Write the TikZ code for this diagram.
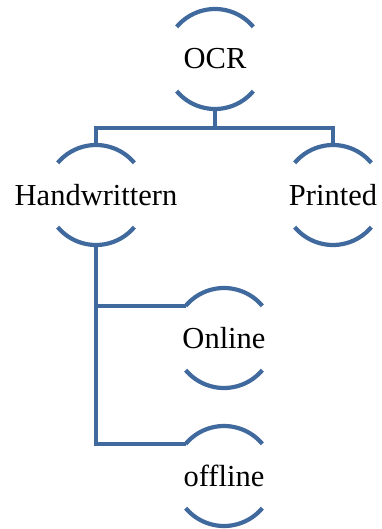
\documentclass[tikz,border=0pt]{standalone}
\usepackage{fontspec}
\setmainfont{Liberation Serif}
\definecolor{ocrblue}{RGB}{64, 106, 158}
\usetikzlibrary{positioning, calc}

\begin{document}
\begin{tikzpicture}[
  x=1pt, y=-1pt,
  ringnode/.style={circle, minimum size=100pt, inner sep=0pt, outer sep=0pt, label={[ringtext]center:#1}},
  ringtext/.style={inner sep=0pt, font=\fontsize{30.5}{34}\selectfont},
  ring/.style={draw=ocrblue, line width=4.2pt},
  link/.style={draw=ocrblue, line width=4.2pt}
]
  \useasboundingbox (0,0) rectangle (381,529);

  \node[ringnode=OCR] (ocr) at (215, 59) {};
  \node[ringnode=Handwrittern] (hand) at (96, 195) {};
  \node[ringnode=Printed] (printed) at (333, 195) {};
  \node[ringnode=Online] (online) at (224, 338) {};
  \node[ringnode=offline] (offline) at (224, 476) {};
  \coordinate (bus) at (0, 128);

  % open circles: only top and bottom arcs
  \foreach \n in {ocr, hand, printed, online, offline} {
    \draw[ring] (\n.40) arc[start angle=40, end angle=140, radius=50pt];
    \draw[ring] (\n.220) arc[start angle=220, end angle=320, radius=50pt];
  }

  % tree connectors
  \draw[link] (ocr.south) -- (ocr.south |- bus);
  \draw[link] (hand.north) -- (hand.north |- bus) -- (printed.north |- bus) -- (printed.north);
  \draw[link] (hand.south) |- (online.140);
  \draw[link] (hand.south) |- (offline.140);
\end{tikzpicture}
\end{document}
